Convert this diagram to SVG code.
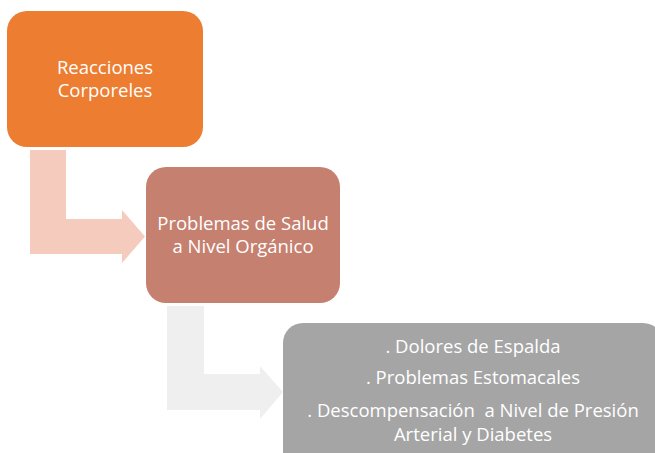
<svg xmlns="http://www.w3.org/2000/svg" width="655" height="453" viewBox="0 0 655 453">
<style>
text{font-family:"Open Sans","Liberation Sans",sans-serif;font-size:18.5px;fill:#fff;text-anchor:middle}
</style>
<rect width="655" height="453" fill="#fff"/>
<g id="connectors">
<path d="M30,150 H66 V219 H122 V210 L145,236.5 L122,263 V254 H30 Z" fill="#F5CBBE"/>
<path d="M167,306 H204 V374 H260 V366 L283,392 L260,419 V410 H167 Z" fill="#EFEFEF"/>
</g>
<g id="node1">
<rect x="7" y="11" width="196" height="136" rx="20" fill="#ED7D31"/>
<text x="105" y="74">Reacciones</text>
<text x="105" y="97">Corporeles</text>
</g>
<g id="node2">
<rect x="146" y="167" width="194" height="136" rx="20" fill="#C5806F"/>
<text x="243" y="230">Problemas de Salud</text>
<text x="243" y="253">a Nivel Orgánico</text>
</g>
<g id="node3">
<rect x="283" y="323" width="380" height="150" rx="20" fill="#A5A5A5"/>
<text x="473" y="353">. Dolores de Espalda</text>
<text x="473" y="384">. Problemas Estomacales</text>
<text x="473" y="417" xml:space="preserve">. Descompensación  a Nivel de Presión</text>
<text x="473" y="441">Arterial y Diabetes</text>
</g>
</svg>
